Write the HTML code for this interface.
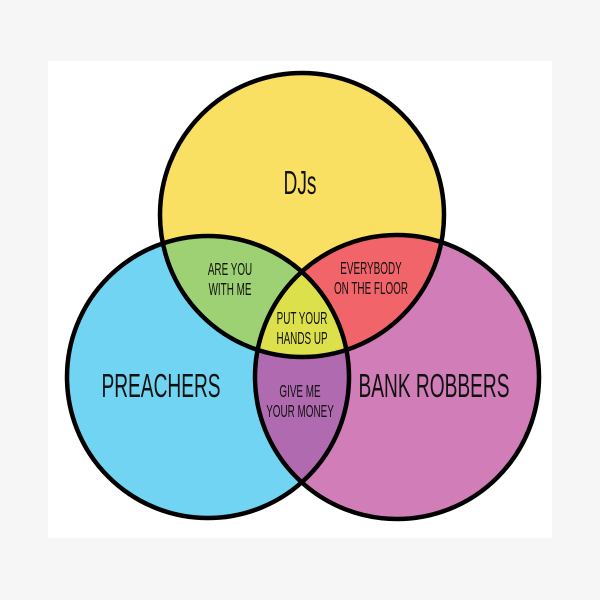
<!DOCTYPE html>
<html><head><style>body{margin:0;background:#f6f6f6}svg{display:block}text{font-family:"Liberation Sans Narrow","Liberation Sans",sans-serif;fill:#111;text-anchor:middle}</style></head>
<body>
<svg width="600" height="600" viewBox="0 0 600 600">
<rect width="600" height="600" fill="#f6f6f6"/>
<rect x="48" y="61" width="504" height="477" fill="#fff"/>
<defs>
<clipPath id="cT"><circle cx="302" cy="215" r="142"/></clipPath>
<clipPath id="cL"><circle cx="208" cy="377" r="141"/></clipPath>
<clipPath id="cR"><circle cx="397" cy="377" r="142"/></clipPath>
</defs>
<circle cx="302" cy="215" r="142" fill="#f9df62"/>
<circle cx="208" cy="377" r="141" fill="#70d4f2"/>
<circle cx="397" cy="377" r="142" fill="#d07db8"/>
<g clip-path="url(#cT)"><circle cx="208" cy="377" r="141" fill="#9dd173"/><circle cx="397" cy="377" r="142" fill="#f1646a"/></g>
<g clip-path="url(#cL)"><circle cx="397" cy="377" r="142" fill="#b06bb0"/></g>
<g clip-path="url(#cL)"><g clip-path="url(#cR)"><circle cx="302" cy="215" r="142" fill="#dce04a"/></g></g>
<g fill="none" stroke="#000" stroke-width="4.5">
<circle cx="302" cy="215" r="142"/><circle cx="208" cy="377" r="141"/><circle cx="397" cy="377" r="142"/>
</g>
<g font-size="33">
<text transform="translate(300,194) scale(0.58,1)">DJs</text>
<text transform="translate(161,397) scale(0.58,1)">PREACHERS</text>
<text transform="translate(434,397) scale(0.58,1)">BANK ROBBERS</text>
</g>
<g font-size="18">
<text transform="translate(230,275) scale(0.55,1)">ARE YOU</text>
<text transform="translate(230,295) scale(0.55,1)">WITH ME</text>
<text transform="translate(371,274) scale(0.55,1)">EVERYBODY</text>
<text transform="translate(371,294) scale(0.55,1)">ON THE FLOOR</text>
<text transform="translate(302,324) scale(0.55,1)">PUT YOUR</text>
<text transform="translate(302,344) scale(0.55,1)">HANDS UP</text>
<text transform="translate(300,397) scale(0.55,1)">GIVE ME</text>
<text transform="translate(300,417) scale(0.55,1)">YOUR MONEY</text>
</g>
</svg>
</body></html>
